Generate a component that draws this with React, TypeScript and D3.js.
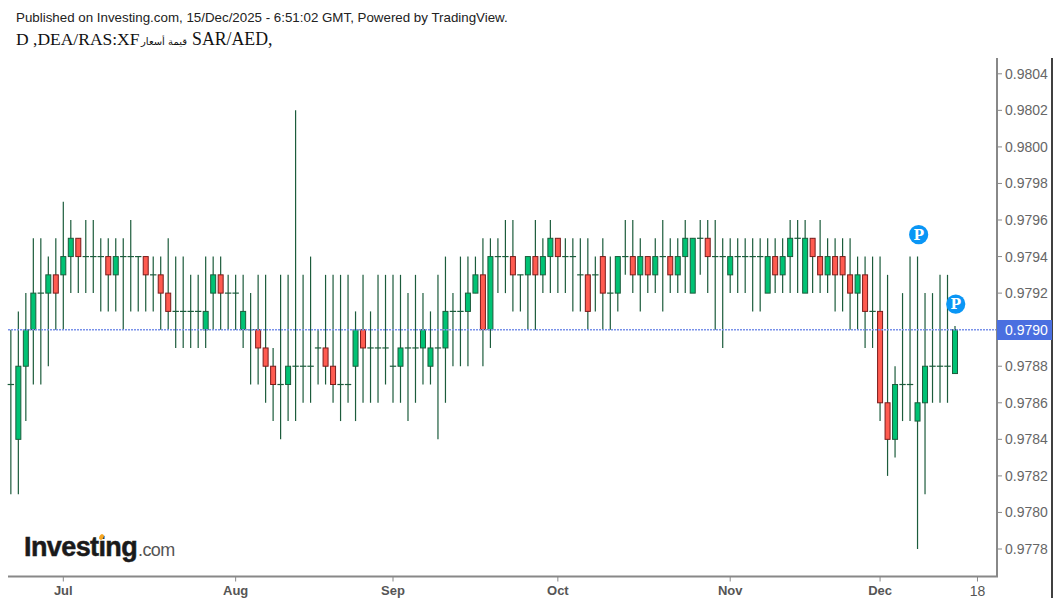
import React from "react";
import * as d3 from "d3";

// prices in 1/10000 units, one per trading day (20 Jun - 15 Dec 2025)
const opens = [
  9787, 9784, 9788, 9790, 9792, 9792, 9793, 9793, 9794, 9795, 9794, 9794, 9794, 9794, 9793, 9794, 9794, 9794, 9794, 9793,
  9793, 9792, 9791, 9791, 9791, 9791, 9790, 9792, 9793, 9792, 9792, 9790, 9790, 9790, 9789, 9788, 9787, 9787, 9788, 9788,
  9788, 9789, 9789, 9788, 9787, 9787, 9788, 9790, 9789, 9789, 9789, 9788, 9788, 9789, 9789, 9789, 9788, 9789, 9789, 9791,
  9791, 9791, 9792, 9793, 9790, 9794, 9794, 9794, 9793, 9793, 9794, 9793, 9794, 9795, 9794, 9794, 9793, 9793, 9793, 9794,
  9792, 9792, 9794, 9794, 9793, 9794, 9793, 9794, 9794, 9793, 9794, 9792, 9795, 9795, 9794, 9794, 9793, 9794, 9794, 9794,
  9794, 9792, 9794, 9793, 9794, 9795, 9792, 9795, 9794, 9793, 9794, 9794, 9793, 9792, 9793, 9791, 9791, 9786, 9784, 9787,
  9787, 9785, 9786, 9788, 9788, 9788, 9787.6,
];
const closes = [
  9787, 9788, 9790, 9792, 9792, 9793, 9792, 9794, 9795, 9794, 9794, 9794, 9794, 9793, 9794, 9794, 9794, 9794, 9793, 9793,
  9792, 9791, 9791, 9791, 9791, 9791, 9791, 9793, 9792, 9792, 9792, 9791, 9790, 9789, 9788, 9787, 9787, 9788, 9788, 9788,
  9788, 9789, 9788, 9787, 9787, 9787, 9790, 9789, 9789, 9789, 9789, 9788, 9789, 9789, 9789, 9790, 9789, 9789, 9791, 9791,
  9791, 9792, 9793, 9790, 9794, 9794, 9794, 9793, 9793, 9794, 9793, 9794, 9795, 9794, 9794, 9794, 9793, 9791, 9793, 9792,
  9792, 9794, 9794, 9793, 9794, 9793, 9794, 9794, 9793, 9794, 9795, 9795, 9795, 9794, 9794, 9794, 9794, 9794, 9794, 9794,
  9794, 9794, 9793, 9794, 9795, 9795, 9795, 9794, 9793, 9794, 9793, 9793, 9792, 9793, 9791, 9791, 9786, 9784, 9787, 9787,
  9787, 9786, 9788, 9788, 9788, 9788, 9790,
];
const highs = [
  9790, 9791, 9792, 9795, 9795, 9794, 9795, 9797, 9796, 9795, 9796, 9796, 9795, 9795, 9795, 9795, 9796, 9794, 9794, 9794,
  9794, 9795, 9794, 9794, 9793, 9793, 9794, 9794, 9794, 9793, 9793, 9793, 9792, 9793, 9793, 9789, 9793, 9793, 9802, 9793,
  9794, 9790, 9793, 9793, 9793, 9793, 9791, 9793, 9791, 9793, 9793, 9793, 9793, 9792, 9793, 9792, 9791, 9793, 9794, 9792,
  9794, 9794, 9794, 9795, 9795, 9795, 9796, 9796, 9793, 9794, 9796, 9795, 9796, 9795, 9795, 9795, 9795, 9795, 9794, 9795,
  9794, 9794, 9796, 9796, 9795, 9794, 9795, 9796, 9795, 9795, 9796, 9795, 9796, 9796, 9796, 9795, 9795, 9795, 9795, 9795,
  9795, 9795, 9795, 9795, 9796, 9796, 9796, 9795, 9796, 9795, 9795, 9795, 9795, 9794, 9794, 9794, 9794, 9793, 9788, 9792,
  9794, 9794, 9792, 9792, 9793, 9793, 9790.2,
];
const lows = [
  9781, 9781, 9785, 9787, 9787, 9788, 9790, 9790, 9792, 9792, 9792, 9792, 9791, 9791, 9791, 9790, 9791, 9791, 9791, 9791,
  9790, 9790, 9789, 9789, 9789, 9789, 9789, 9790, 9790, 9790, 9790, 9789, 9787, 9787, 9786, 9785, 9784, 9785, 9785, 9786,
  9786, 9787, 9787, 9786, 9785, 9786, 9785, 9786, 9786, 9786, 9787, 9786, 9786, 9785, 9786, 9787, 9787, 9784, 9786, 9788,
  9788, 9788, 9792, 9788, 9789, 9792, 9792, 9791, 9791, 9790, 9790, 9792, 9792, 9792, 9792, 9791, 9791, 9790, 9791, 9790,
  9790, 9791, 9793, 9792, 9791, 9792, 9792, 9791, 9792, 9792, 9792, 9792, 9793, 9792, 9790, 9789, 9792, 9792, 9792, 9791,
  9791, 9792, 9792, 9792, 9792, 9792, 9792, 9792, 9792, 9792, 9791, 9791, 9790, 9790, 9789, 9789, 9785, 9782, 9783, 9785,
  9785, 9778, 9781, 9786, 9786, 9786, 9787.6,
];

const priceTicks = [9804, 9802, 9800, 9798, 9796, 9794, 9792, 9790, 9788, 9786, 9784, 9782, 9780, 9778];
const timeTicks = [
  { index: 7, label: "Jul", bold: true },
  { index: 30, label: "Aug", bold: true },
  { index: 51, label: "Sep", bold: true },
  { index: 73, label: "Oct", bold: true },
  { index: 96, label: "Nov", bold: true },
  { index: 116, label: "Dec", bold: true },
  { index: 129, label: "18", bold: false },
];
const lastPrice = 9790;
const pMarkers = [
  { index: 121.15, price: 9795.2 },
  { index: 126.1, price: 9791.4 },
];

const width = 1060;
const height = 605;
const axisX = 997;
const axisY = 576.5;
const rightEdge = 1052;
const sans = "'Liberation Sans', Arial, sans-serif";

const App = () => {
  const xScale = d3.scaleLinear().domain([0, 126]).range([10.85, 955]);
  const yScale = d3.scaleLinear().domain([9804, 9778]).range([73.8, 549]);
  const bodyW = 5;
  const wickColor = "#1c5c3c";

  const candles = opens.map((o, i) => ({
    i, o, c: closes[i], h: highs[i], l: lows[i],
  }));

  return (
    <svg
      width={width}
      height={height}
      style={{ position: "fixed", left: 0, top: 0, background: "#fff" }}
    >
      <text x={16} y={22} fontFamily={sans} fontSize={13.33} fill="#222">
        Published on Investing.com, 15/Dec/2025 - 6:51:02 GMT, Powered by TradingView.
      </text>
      <text x={16} y={45} fontFamily="'Liberation Serif', serif" fontSize={17.5} fill="#111">D ,DEA/RAS:XF</text>
      <text x={141} y={45} fontFamily="'DejaVu Sans', sans-serif" fontSize={10} fill="#111">قيمة أسعار</text>
      <text x={192} y={45} fontFamily="'Liberation Serif', serif" fontSize={17.8} fill="#111">SAR/AED,</text>

      {candles.map(d => {
        const x = xScale(d.i);
        return <line key={d.i} x1={x} x2={x} y1={yScale(d.h)} y2={yScale(d.l)} stroke={wickColor} strokeWidth={1.2} />;
      })}
      {candles.map(d => {
        const x = xScale(d.i);
        if (d.o === d.c) {
          return <line key={d.i} x1={x - 3.2} x2={x + 3.2} y1={yScale(d.o)} y2={yScale(d.o)} stroke={wickColor} strokeWidth={1.2} />;
        }
        const up = d.c > d.o;
        const top = yScale(Math.max(d.o, d.c));
        const bottom = yScale(Math.min(d.o, d.c));
        return (
          <rect
            key={d.i}
            x={x - bodyW / 2}
            y={top}
            width={bodyW}
            height={bottom - top}
            fill={up ? "#00c274" : "#ff5b50"}
            stroke={up ? "#1c5c3c" : "#7a1c1c"}
            strokeWidth={1}
          />
        );
      })}

      <line x1={8} x2={axisX} y1={yScale(lastPrice)} y2={yScale(lastPrice)} stroke="#7a92ea" strokeWidth={1.4} strokeDasharray="2 1" />

      {pMarkers.map(m => (
        <g key={m.index} transform={`translate(${xScale(m.index)},${yScale(m.price)})`}>
          <circle r={9.6} fill="#0a96f5" />
          <text y={5} textAnchor="middle" fontFamily="'DejaVu Serif', serif" fontWeight="bold" fontSize={14} fill="#fff">P</text>
        </g>
      ))}

      {/* axes */}
      <line x1={8} x2={axisX + 1} y1={axisY} y2={axisY} stroke="#888" strokeWidth={2} />
      <line x1={axisX} x2={axisX} y1={58} y2={axisY} stroke="#888" strokeWidth={2} />
      <line x1={rightEdge} x2={rightEdge} y1={58} y2={598} stroke="#000" strokeWidth={1.5} />
      {priceTicks.map(p => (
        <g key={p}>
          <line x1={axisX} x2={axisX + 5} y1={yScale(p)} y2={yScale(p)} stroke="#888" />
          <text x={1005} y={yScale(p) + 5} fontFamily={sans} fontSize={14} fill="#666">
            {d3.format(".4f")(p / 10000)}
          </text>
        </g>
      ))}
      <rect x={axisX} y={320} width={rightEdge - axisX} height={20} fill="#4a6fe0" />
      <text x={1005} y={335} fontFamily={sans} fontSize={14} fill="#fff">
        {d3.format(".4f")(lastPrice / 10000)}
      </text>
      {timeTicks.map(t => (
        <g key={t.label}>
          <line x1={xScale(t.index)} x2={xScale(t.index)} y1={axisY} y2={axisY + 5} stroke="#888" />
          <text
            x={xScale(t.index)}
            y={t.bold ? 595 : 596}
            textAnchor="middle"
            fontFamily={sans}
            fontSize={t.bold ? 13 : 14}
            fontWeight={t.bold ? "bold" : "normal"}
            fill="#555"
          >
            {t.label}
          </text>
        </g>
      ))}

      {/* logo */}
      <text x={24} y={556} fontFamily={sans} fontWeight="bold" fontSize={27} letterSpacing={-0.6} stroke="#1a1a1a" strokeWidth={0.5} fill="#1a1a1a">Investing</text>
      <text x={138} y={556} fontFamily={sans} fontSize={18} letterSpacing={-0.6} fill="#555">.com</text>
      <ellipse cx={101.5} cy={537} rx={2} ry={3} transform="rotate(30 101.5 537)" fill="#f5a623" />
    </svg>
  );
};

export default App;
